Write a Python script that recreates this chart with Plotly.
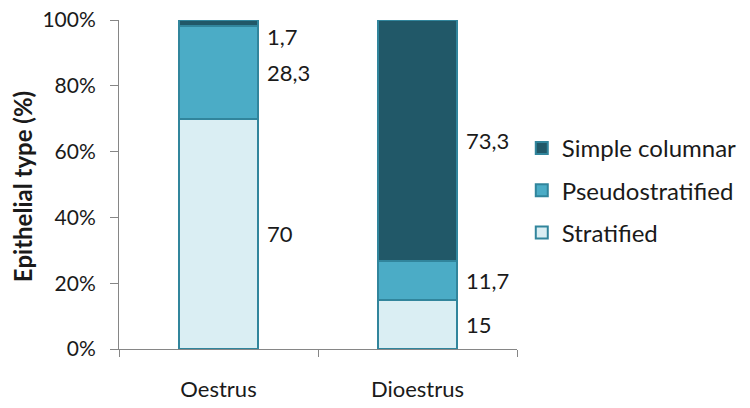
import plotly.graph_objects as go

categories = ["Oestrus", "Dioestrus"]
series_names = ["Stratified", "Pseudostratified", "Simple columnar"]
stratified = [70, 15]
pseudostratified = [28.3, 11.7]
simple_columnar = [1.7, 73.3]
label_text = {
    "Stratified": ["70", "15"],
    "Pseudostratified": ["28,3", "11,7"],
    "Simple columnar": ["1,7", "73,3"],
}
colors = {"Stratified": "#DAEEF3", "Pseudostratified": "#4BACC6", "Simple columnar": "#215868"}
values = {"Stratified": stratified, "Pseudostratified": pseudostratified, "Simple columnar": simple_columnar}
legend_rank = {"Simple columnar": 1, "Pseudostratified": 2, "Stratified": 3}
y_ticks = [0, 20, 40, 60, 80, 100]
y_ticklabels = ["0%", "20%", "40%", "60%", "80%", "100%"]

FONT = "Lato"
SIZE = 22
fig = go.Figure()
for name in series_names:
    fig.add_trace(go.Bar(
        x=categories, y=values[name], name=name,
        marker=dict(color=colors[name], line=dict(color="#31859C", width=2)),
        width=0.4, legendgroup=name, legendrank=legend_rank[name],
    ))

# data labels at segment centres, to the right of each bar
base = [0, 0]
for name in series_names:
    for j, cat in enumerate(categories):
        v = values[name][j]
        center = base[j] + v / 2
        yshift = -14 if v < 5 else 0
        fig.add_annotation(x=cat, y=center, text=label_text[name][j], showarrow=False,
                           xref="x", yref="y", xanchor="left", xshift=46, yshift=yshift,
                           font=dict(family=FONT, size=SIZE, color="#1a1a1a"))
        base[j] += v

# y-axis title
fig.add_annotation(text="<b>Epithelial type (%)</b>", xref="paper", yref="paper",
                   x=0, y=0.492, xshift=-97, xanchor="center", yanchor="middle",
                   textangle=-90, showarrow=False,
                   font=dict(family=FONT, size=24, color="#1a1a1a"))

fig.update_layout(
    barmode="stack",
    width=750, height=408,
    margin=dict(l=111, r=241, t=12, b=67, autoexpand=False),
    plot_bgcolor="white", paper_bgcolor="white",
    font=dict(family=FONT, size=SIZE, color="#1a1a1a"),
    showlegend=True,
    legend=dict(x=1.012, y=0.678, xanchor="left", yanchor="top",
                traceorder="grouped", tracegroupgap=8,
                font=dict(family=FONT, size=24, color="#1a1a1a"),
                itemwidth=30),
)
fig.update_yaxes(range=[0, 100], tickvals=y_ticks, ticktext=y_ticklabels,
                 tickfont=dict(size=21),
                 showgrid=False, showline=True, linecolor="#868686", linewidth=1,
                 ticks="outside", ticklen=8, tickcolor="#868686", automargin=False,
                 ticklabelstandoff=10, ticklabeloverflow="allow", zeroline=False)
fig.update_xaxes(showgrid=False, showline=True, linecolor="#868686", linewidth=1,
                 ticks="outside", ticklen=7, tickcolor="#868686", tickson="boundaries",
                 ticklabelstandoff=21, automargin=False)

fig.write_html("out.html")
